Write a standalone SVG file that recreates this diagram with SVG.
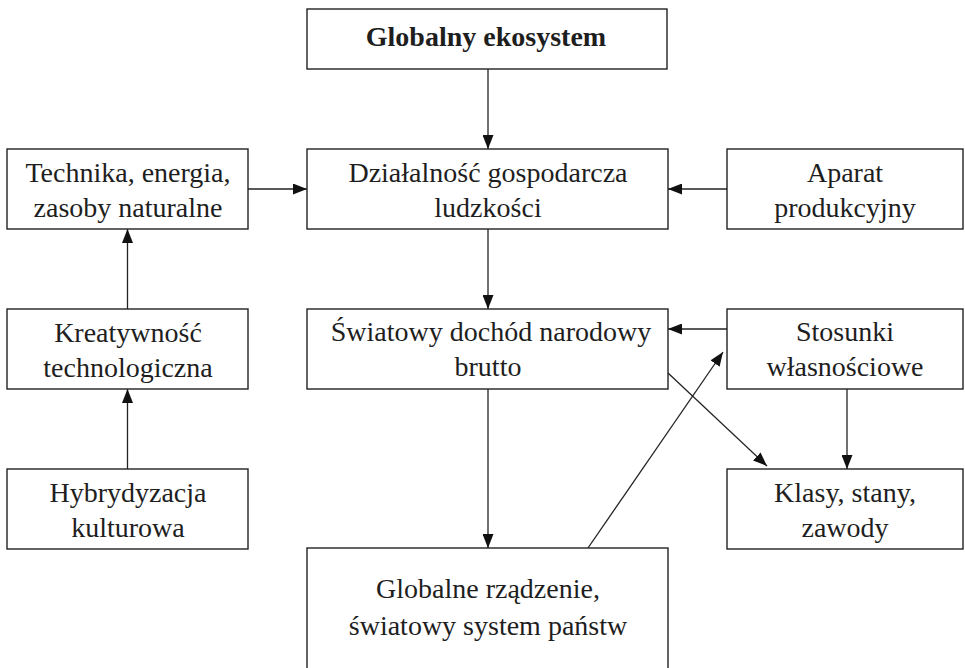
<svg xmlns="http://www.w3.org/2000/svg" width="965" height="668" viewBox="0 0 965 668">
<defs>
<style>
.box{fill:#fff;stroke:#222;stroke-width:1.4}
.t{font-family:'Liberation Serif', 'Times New Roman', serif;font-size:28px;fill:#1e1e1e;text-anchor:middle}
.b{font-weight:bold}
.c{stroke:#222;stroke-width:1.3;fill:none}
</style>
<marker id="ah" markerUnits="userSpaceOnUse" markerWidth="15" markerHeight="11" refX="14" refY="5.5" orient="auto">
<path d="M0,0 L14,5.5 L0,11 z" fill="#111"/>
</marker>
</defs>
<rect width="965" height="668" fill="#fff"/>
<g id="connectors">
<line class="c" x1="488" y1="69" x2="488" y2="149" marker-end="url(#ah)"/>
<line class="c" x1="248" y1="189" x2="307" y2="189" marker-end="url(#ah)"/>
<line class="c" x1="727" y1="189" x2="668" y2="189" marker-end="url(#ah)"/>
<line class="c" x1="488" y1="229" x2="488" y2="309" marker-end="url(#ah)"/>
<line class="c" x1="127.5" y1="309" x2="127.5" y2="229" marker-end="url(#ah)"/>
<line class="c" x1="127.5" y1="469" x2="127.5" y2="389" marker-end="url(#ah)"/>
<line class="c" x1="727" y1="329" x2="668" y2="329" marker-end="url(#ah)"/>
<line class="c" x1="488" y1="389" x2="488" y2="548" marker-end="url(#ah)"/>
<line class="c" x1="847" y1="389" x2="847" y2="469" marker-end="url(#ah)"/>
<line class="c" x1="668" y1="373" x2="767" y2="466" marker-end="url(#ah)"/>
<line class="c" x1="588" y1="548" x2="723" y2="352" marker-end="url(#ah)"/>
</g>
<g id="n-global">
<rect class="box" x="307" y="9" width="360" height="60"/>
<text class="t b" x="486" y="46">Globalny ekosystem</text>
</g>
<g id="n-technika">
<rect class="box" x="7" y="149" width="241" height="80"/>
<text class="t" x="128" y="182">Technika, energia,</text>
<text class="t" x="128" y="217">zasoby naturalne</text>
</g>
<g id="n-dzialalnosc">
<rect class="box" x="307" y="149" width="361" height="80"/>
<text class="t" x="488" y="182">Działalność gospodarcza</text>
<text class="t" x="488" y="217">ludzkości</text>
</g>
<g id="n-aparat">
<rect class="box" x="727" y="149" width="236" height="80"/>
<text class="t" x="845" y="182">Aparat</text>
<text class="t" x="845" y="217">produkcyjny</text>
</g>
<g id="n-kreatywnosc">
<rect class="box" x="7" y="309" width="241" height="80"/>
<text class="t" x="128" y="342">Kreatywność</text>
<text class="t" x="128" y="377">technologiczna</text>
</g>
<g id="n-swiatowy">
<rect class="box" x="307" y="309" width="361" height="80"/>
<text class="t" x="491" y="341">Światowy dochód narodowy</text>
<text class="t" x="488" y="376">brutto</text>
</g>
<g id="n-stosunki">
<rect class="box" x="727" y="309" width="236" height="80"/>
<text class="t" x="845" y="341">Stosunki</text>
<text class="t" x="845" y="376">własnościowe</text>
</g>
<g id="n-hybrydyzacja">
<rect class="box" x="7" y="469" width="241" height="80"/>
<text class="t" x="128" y="502">Hybrydyzacja</text>
<text class="t" x="128" y="537">kulturowa</text>
</g>
<g id="n-klasy">
<rect class="box" x="727" y="469" width="236" height="80"/>
<text class="t" x="845" y="502">Klasy, stany,</text>
<text class="t" x="845" y="537">zawody</text>
</g>
<g id="n-globalne">
<rect class="box" x="307" y="548" width="361" height="140"/>
<text class="t" x="488" y="598">Globalne rządzenie,</text>
<text class="t" x="488" y="635">światowy system państw</text>
</g>
</svg>
